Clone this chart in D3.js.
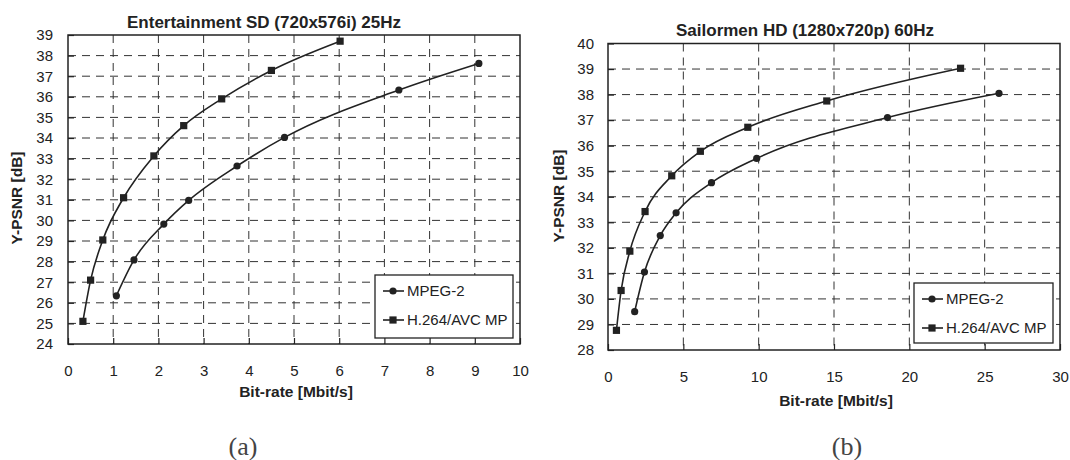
<!DOCTYPE html>
<html>
<head>
<meta charset="utf-8">
<script src="https://cdn.jsdelivr.net/npm/d3@7"></script>
<style>
  body { margin: 0; background: #fff; }
  svg { display: block; }
</style>
</head>
<body>
<svg id="fig" width="1070" height="460"></svg>
<script>
// (a) Entertainment SD
var sdRateMpeg2 = [1.07, 1.46, 2.12, 2.67, 3.74, 4.79, 7.32, 9.09];
var sdPsnrMpeg2 = [26.34, 28.08, 29.82, 30.97, 32.64, 34.03, 36.33, 37.62];
var sdRateAvc   = [0.33, 0.50, 0.77, 1.23, 1.90, 2.56, 3.40, 4.50, 6.02];
var sdPsnrAvc   = [25.10, 27.10, 29.05, 31.10, 33.13, 34.60, 35.90, 37.28, 38.70];
var sdXTicks = [0, 1, 2, 3, 4, 5, 6, 7, 8, 9, 10];
var sdYTicks = [24, 25, 26, 27, 28, 29, 30, 31, 32, 33, 34, 35, 36, 37, 38, 39];

// (b) Sailormen HD
var hdRateMpeg2 = [1.77, 2.42, 3.47, 4.52, 6.87, 9.87, 18.55, 25.95];
var hdPsnrMpeg2 = [29.50, 31.05, 32.48, 33.37, 34.55, 35.50, 37.10, 38.05];
var hdRateAvc   = [0.56, 0.87, 1.45, 2.46, 4.23, 6.13, 9.28, 14.52, 23.40];
var hdPsnrAvc   = [28.77, 30.33, 31.87, 33.42, 34.82, 35.78, 36.72, 37.75, 39.03];
var hdXTicks = [0, 5, 10, 15, 20, 25, 30];
var hdYTicks = [28, 29, 30, 31, 32, 33, 34, 35, 36, 37, 38, 39, 40];

var seriesNames = ["MPEG-2", "H.264/AVC MP"];

var ink = "#222";
var svg = d3.select("#fig");

function zip(xs, ys){
  return xs.map(function(v, i){ return [v, ys[i]]; });
}

function drawPanel(p){
  var g = svg.append("g");

  var x = d3.scaleLinear().domain([p.xTicks[0], p.xTicks[p.xTicks.length-1]]).range([p.left, p.right]);
  var y = d3.scaleLinear().domain([p.yTicks[0], p.yTicks[p.yTicks.length-1]]).range([p.bottom, p.top]);

  // dashed grid
  var grid = g.append("g").attr("stroke", "#333").attr("stroke-width", 1).attr("stroke-dasharray", "8,6");
  grid.selectAll("line.v")
      .data(p.xTicks.slice(1, -1))
      .enter().append("line")
      .attr("x1", function(d){ return x(d); }).attr("x2", function(d){ return x(d); })
      .attr("y1", p.top).attr("y2", p.bottom);
  grid.selectAll("line.h")
      .data(p.yTicks.slice(1, -1))
      .enter().append("line")
      .attr("x1", p.left).attr("x2", p.right)
      .attr("y1", function(d){ return y(d); }).attr("y2", function(d){ return y(d); });

  // axes (ticks point inward)
  var xa = g.append("g")
      .attr("transform", "translate(0," + p.bottom + ")")
      .call(d3.axisBottom(x).tickValues(p.xTicks).tickFormat(d3.format("d"))
            .tickSizeInner(-6).tickSizeOuter(0).tickPadding(21));
  var ya = g.append("g")
      .attr("transform", "translate(" + p.left + ",0)")
      .call(d3.axisLeft(y).tickValues(p.yTicks).tickFormat(d3.format("d"))
            .tickSizeInner(-6).tickSizeOuter(0).tickPadding(p.yPad));
  [xa, ya].forEach(function(a){
    a.select(".domain").remove();
    a.selectAll(".tick line").attr("stroke", ink).attr("stroke-width", 1.2);
    a.selectAll("text").attr("fill", ink)
      .style("font-family", "'Liberation Sans', Arial, sans-serif").style("font-size", "15px");
  });

  // frame
  g.append("rect")
      .attr("x", p.left).attr("y", p.top)
      .attr("width", p.right - p.left).attr("height", p.bottom - p.top)
      .attr("fill", "none").attr("stroke", ink).attr("stroke-width", 1.5);

  // curves
  var line = d3.line()
      .x(function(d){ return x(d[0]); })
      .y(function(d){ return y(d[1]); })
      .curve(d3.curveMonotoneX);

  p.series.forEach(function(s){
    g.append("path").datum(s.pts)
        .attr("fill", "none").attr("stroke", ink).attr("stroke-width", 1.6)
        .attr("d", line);
    var m = g.append("g").attr("fill", ink);
    if (s.shape === "circle"){
      m.selectAll("circle").data(s.pts).enter().append("circle")
          .attr("cx", function(d){ return x(d[0]); })
          .attr("cy", function(d){ return y(d[1]); })
          .attr("r", 3.6);
    } else {
      m.selectAll("rect").data(s.pts).enter().append("rect")
          .attr("x", function(d){ return x(d[0]) - 3.6; })
          .attr("y", function(d){ return y(d[1]) - 3.6; })
          .attr("width", 7.2).attr("height", 7.2);
    }
  });

  // legend
  var lg = g.append("g").attr("transform", "translate(" + p.legend[0] + "," + p.legend[1] + ")");
  lg.append("rect")
      .attr("width", p.legend[2]).attr("height", p.legend[3])
      .attr("fill", "#fff").attr("stroke", ink).attr("stroke-width", 1.3);
  var item = lg.selectAll("g.item")
      .data(p.series)
      .enter().append("g")
      .attr("transform", function(d, i){ return "translate(0," + (16 + i * 29) + ")"; });
  item.append("line")
      .attr("x1", 8).attr("x2", 29).attr("stroke", ink).attr("stroke-width", 1.6);
  item.each(function(d){
    var el = d3.select(this);
    if (d.shape === "circle") el.append("circle").attr("cx", 18).attr("r", 3.6).attr("fill", ink);
    else el.append("rect").attr("x", 14.4).attr("y", -3.6).attr("width", 7.2).attr("height", 7.2).attr("fill", ink);
  });
  item.append("text")
      .attr("x", 32).attr("dy", "0.35em")
      .attr("fill", ink)
      .style("font-family", "'Liberation Sans', Arial, sans-serif").style("font-size", "15px")
      .text(function(d){ return d.name; });

  // titles
  svg.append("text")
      .attr("x", p.titlePos[0]).attr("y", p.titlePos[1])
      .attr("text-anchor", "middle").attr("fill", ink)
      .style("font-family", "'Liberation Sans', Arial, sans-serif").style("font-size", "17px").style("font-weight", "bold")
      .text(p.title);
  svg.append("text")
      .attr("x", p.xTitlePos[0]).attr("y", p.xTitlePos[1])
      .attr("text-anchor", "middle").attr("fill", ink)
      .style("font-family", "'Liberation Sans', Arial, sans-serif").style("font-size", "15.5px").style("font-weight", "bold")
      .text("Bit-rate [Mbit/s]");
  svg.append("text")
      .attr("transform", "translate(" + p.yTitlePos[0] + "," + p.yTitlePos[1] + ") rotate(-90)")
      .attr("text-anchor", "middle").attr("fill", ink)
      .style("font-family", "'Liberation Sans', Arial, sans-serif").style("font-size", "15.5px").style("font-weight", "bold")
      .text("Y-PSNR [dB]");
  svg.append("text")
      .attr("x", p.captionPos[0]).attr("y", p.captionPos[1])
      .attr("text-anchor", "middle").attr("fill", "#444")
      .style("font-family", "'Liberation Serif', 'DejaVu Serif', serif").style("font-size", "26px")
      .text(p.caption);
}

drawPanel({
  left: 68, right: 520, top: 35, bottom: 344, yPad: 15,
  xTicks: sdXTicks, yTicks: sdYTicks,
  series: [
    {name: seriesNames[0], shape: "circle", pts: zip(sdRateMpeg2, sdPsnrMpeg2)},
    {name: seriesNames[1], shape: "square", pts: zip(sdRateAvc, sdPsnrAvc)}
  ],
  legend: [375, 275, 138, 63],
  title: "Entertainment SD (720x576i) 25Hz",
  titlePos: [264, 28],
  xTitlePos: [296, 397],
  yTitlePos: [22, 198],
  caption: "(a)",
  captionPos: [243, 455]
});

drawPanel({
  left: 608, right: 1060, top: 43.5, bottom: 350, yPad: 14,
  xTicks: hdXTicks, yTicks: hdYTicks,
  series: [
    {name: seriesNames[0], shape: "circle", pts: zip(hdRateMpeg2, hdPsnrMpeg2)},
    {name: seriesNames[1], shape: "square", pts: zip(hdRateAvc, hdPsnrAvc)}
  ],
  legend: [914, 283, 139, 60],
  title: "Sailormen HD (1280x720p) 60Hz",
  titlePos: [805, 36],
  xTitlePos: [836, 406],
  yTitlePos: [564, 196],
  caption: "(b)",
  captionPos: [847, 455]
});
</script>
</body>
</html>
